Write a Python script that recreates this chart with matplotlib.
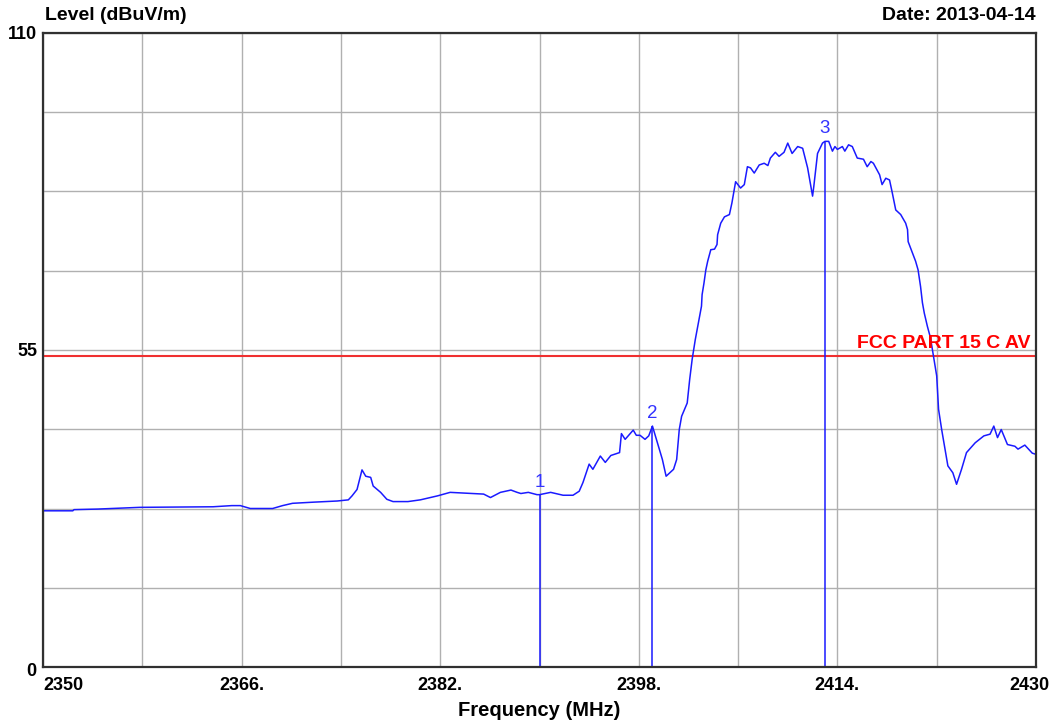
import matplotlib
matplotlib.use('Agg')
import matplotlib.pyplot as plt
import matplotlib.transforms as mtransforms

# ---------------- data ----------------
freq_mhz = [
    2350.0, 2352.4, 2352.5, 2354.4, 2357.8, 2363.7, 2365.2, 2365.9, 2366.7, 2368.5,
    2369.3, 2370.1, 2371.8, 2373.7, 2374.6, 2374.9, 2375.3, 2375.7, 2376.0, 2376.4,
    2376.6, 2377.2, 2377.7, 2378.2, 2379.4, 2380.4, 2381.8, 2382.8, 2385.5, 2386.05,
    2386.85, 2387.7, 2388.2, 2388.5, 2389.1, 2389.8, 2390.0, 2390.9, 2391.9, 2392.7,
    2393.2, 2393.5, 2394.0, 2394.3, 2394.9, 2395.3, 2395.75, 2396.45, 2396.6, 2396.9,
    2397.55, 2397.8, 2398.1, 2398.5, 2398.8, 2399.1, 2399.65, 2399.9, 2400.2, 2400.8,
    2401.05, 2401.26, 2401.45, 2401.9, 2402.1, 2402.3, 2402.55, 2402.85, 2403.05, 2403.1,
    2403.25, 2403.4, 2403.55, 2403.8, 2404.1, 2404.3, 2404.35, 2404.6, 2404.9, 2405.3,
    2405.5, 2405.8, 2406.2, 2406.5, 2406.75, 2407.0, 2407.3, 2407.7, 2408.1, 2408.4,
    2408.6, 2409.0, 2409.3, 2409.7, 2410.0, 2410.35, 2410.8, 2411.2, 2411.6, 2412.0,
    2412.1, 2412.4, 2412.8, 2413.0, 2413.3, 2413.6, 2413.8, 2414.0, 2414.4, 2414.6,
    2414.9, 2415.2, 2415.6, 2416.1, 2416.4, 2416.7, 2416.9, 2417.4, 2417.6, 2417.9,
    2418.2, 2418.4, 2418.7, 2419.1, 2419.5, 2419.65, 2419.7, 2420.05, 2420.3, 2420.5,
    2420.7, 2420.85, 2421.0, 2421.25, 2421.5, 2421.7, 2422.0, 2422.15, 2422.4, 2422.9,
    2423.3, 2423.6, 2424.0, 2424.4, 2425.1, 2425.8, 2426.3, 2426.6, 2426.9, 2427.2,
    2427.7, 2428.3, 2428.55, 2429.1, 2429.7, 2430.0,
]
level_dbuv = [
    27.1, 27.1, 27.3, 27.4, 27.7, 27.8, 28.0, 28.0, 27.5, 27.5,
    28.0, 28.4, 28.6, 28.8, 29.0, 29.7, 30.8, 34.2, 33.1, 32.9,
    31.4, 30.3, 29.1, 28.7, 28.7, 29.0, 29.7, 30.3, 30.0, 29.4,
    30.3, 30.7, 30.3, 30.1, 30.3, 29.9, 29.9, 30.3, 29.8, 29.8,
    30.5, 32.0, 35.2, 34.3, 36.6, 35.5, 36.7, 37.2, 40.5, 39.5,
    41.1, 40.2, 40.2, 39.5, 40.1, 41.8, 37.8, 36.0, 33.1, 34.3,
    36.0, 41.2, 43.5, 45.8, 49.9, 53.4, 56.8, 60.3, 62.6, 64.6,
    66.6, 68.9, 70.4, 72.4, 72.5, 73.3, 75.0, 77.0, 78.1, 78.5,
    80.5, 84.2, 83.1, 83.7, 86.8, 86.6, 85.7, 87.1, 87.4, 87.0,
    88.3, 89.3, 88.6, 89.3, 90.9, 89.1, 90.3, 90.0, 86.6, 81.7,
    83.4, 89.1, 90.9, 91.2, 91.2, 89.5, 90.3, 89.8, 90.3, 89.5,
    90.6, 90.3, 88.3, 88.1, 86.8, 87.7, 87.4, 85.4, 83.7, 84.8,
    84.5, 82.5, 79.3, 78.5, 77.0, 75.9, 73.8, 71.8, 70.4, 68.9,
    66.0, 63.2, 61.4, 59.1, 57.1, 54.5, 50.5, 44.7, 41.2, 34.9,
    33.7, 31.7, 34.3, 37.2, 38.9, 40.1, 40.4, 41.8, 39.8, 41.2,
    38.6, 38.3, 37.8, 38.5, 37.1, 36.9,
]
limit_level = 54.0
limit_label = 'FCC PART 15 C AV'

marker_ids = ['1', '2', '3']
marker_freq = [2390.0, 2399.1, 2413.0]
marker_level = [29.9, 41.8, 91.2]

x_ticks = [2350, 2366, 2382, 2398, 2414, 2430]
x_tick_labels = ['2350', '2366.', '2382.', '2398.', '2414.', '2430']
x_grid = [2350, 2358, 2366, 2374, 2382, 2390, 2398, 2406, 2414, 2422, 2430]
y_ticks = [0, 55, 110]
y_tick_labels = ['0', '55', '110']
y_grid = [0, 13.75, 27.5, 41.25, 55, 68.75, 82.5, 96.25, 110]

y_label = 'Level (dBuV/m)'
x_label = 'Frequency (MHz)'
date_text = 'Date: 2013-04-14'

# ---------------- style ----------------
plt.rcParams['font.family'] = ['Liberation Sans', 'DejaVu Sans']
W, H = 1054, 722
fig = plt.figure(figsize=(W / 100, H / 100), dpi=100)
ax = fig.add_axes([43 / W, 55 / H, 993 / W, 634 / H])

trace_col = '#1a1aff'
grid_col = '#b0b0b0'

ax.set_xlim(2350, 2430)
ax.set_ylim(0, 110)

ax.set_xticks(x_grid, minor=True)
ax.set_yticks(y_grid, minor=True)
ax.set_xticks(x_ticks)
ax.set_xticklabels(x_tick_labels, fontsize=13, fontweight='bold')
ax.set_yticks(y_ticks)
ax.set_yticklabels(y_tick_labels, fontsize=13, fontweight='bold')
ax.tick_params(which='both', length=0)
ax.tick_params(axis='x', pad=7.5)
ax.tick_params(axis='y', pad=4)
ax.grid(which='both', color=grid_col, linewidth=1.0)
ax.set_axisbelow(True)

for s in ax.spines.values():
    s.set_color('#303030')
    s.set_linewidth(1.6)
    s.set_zorder(5)

# first / last x tick label alignment
xl = ax.get_xticklabels()
xl[0].set_horizontalalignment('left')
xl[-1].set_horizontalalignment('right')
xl[-1].set_transform(xl[-1].get_transform() +
                     mtransforms.ScaledTranslation(13 / 100, 0, fig.dpi_scale_trans))
yl = ax.get_yticklabels()
yl[0].set_transform(yl[0].get_transform() +
                    mtransforms.ScaledTranslation(-1 / 100, -3 / 100, fig.dpi_scale_trans))

# limit line
ax.axhline(limit_level, color='#f03030', linewidth=1.5, zorder=3)
ax.annotate(limit_label, xy=(1.0, limit_level), xycoords=('axes fraction', 'data'),
            xytext=(-4, 3), textcoords='offset points', ha='right', va='bottom',
            color='#ff0000', fontsize=14, fontweight='bold', zorder=6)

# trace
ax.plot(freq_mhz, level_dbuv, color=trace_col, linewidth=1.1, zorder=4)

# markers
ax.vlines(marker_freq, 0, marker_level, color=trace_col, linewidth=1.1, zorder=4)
for mid, mf, ml in zip(marker_ids, marker_freq, marker_level):
    ax.annotate(mid, xy=(mf, ml), xytext=(0, 3), textcoords='offset points',
                ha='center', va='bottom', color='#3333ff', fontsize=13.5, zorder=6)

ax.set_xlabel(x_label, fontsize=14.5, fontweight='bold', labelpad=5)

fig.text(45 / W, 1 - 16 / H, y_label, fontsize=14, fontweight='bold',
         ha='left', va='center')
fig.text(1036 / W, 1 - 16 / H, date_text, fontsize=14, fontweight='bold',
         ha='right', va='center')

fig.savefig('out.png', dpi=100, facecolor='white')
